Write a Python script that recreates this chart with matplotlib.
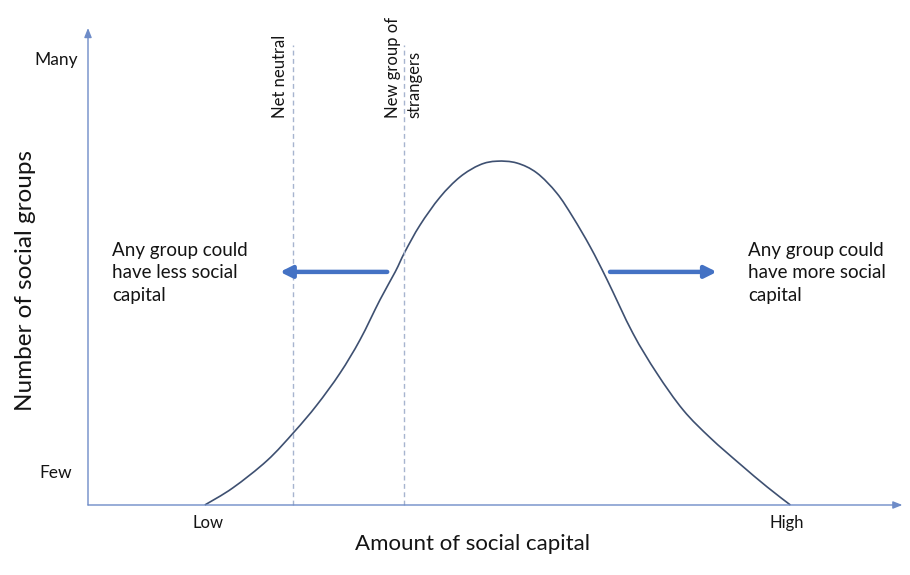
import matplotlib
matplotlib.use("Agg")
import matplotlib.pyplot as plt
from matplotlib.path import Path
from matplotlib.patches import PathPatch

plt.rcParams['font.family'] = ['Lato', 'DejaVu Sans']

# Bell curve of social groups over the amount of social capital (0-100 scale)
capital = [14.6, 18.1, 22.4, 25.8, 28.6, 31.5, 34.0, 36.5, 38.4, 39.6,
           41.5, 44.0, 46.5, 49.0, 51.1, 53.6, 56.1, 58.6, 60.6, 62.8,
           64.9, 68.1, 71.1, 74.4, 77.8, 81.5, 84.9, 87.8]
groups = [0.0, 3.8, 9.9, 16.3, 22.2, 29.3, 36.7, 45.6, 51.8, 56.2,
          62.2, 68.4, 72.9, 75.6, 76.4, 76.0, 73.8, 69.3, 64.0, 57.3,
          50.0, 38.2, 29.3, 21.1, 14.9, 9.1, 4.0, 0.0]

x_ticks = [15.0, 87.4]
x_tick_labels = ["Low", "High"]
y_ticks = [7.1, 98.9]
y_tick_labels = ["Few", "Many"]

markers_x = [25.6, 39.5]
markers_text = ["Net neutral", "New group of\nstrangers"]

shift_arrows = [(37.4, 24.0), (65.25, 78.6)]
shift_level = 51.8
less_text = "Any group could\nhave less social\ncapital"
more_text = "Any group could\nhave more social\ncapital"

axis_col = "#6E8CC8"
curve_col = "#3E5071"
dash_col = "#A7B4CF"
arrow_col = "#4472C4"
text_col = "#141414"


def smooth_path(xs, ys):
    """Catmull-Rom curve through the points, expressed as cubic Bezier segments."""
    pts = list(zip(xs, ys))
    ext = [pts[0]] + pts + [pts[-1]]
    verts = [pts[0]]
    codes = [Path.MOVETO]
    for i in range(1, len(ext) - 2):
        p0, p1, p2, p3 = ext[i - 1], ext[i], ext[i + 1], ext[i + 2]
        c1 = (p1[0] + (p2[0] - p0[0]) / 6, p1[1] + (p2[1] - p0[1]) / 6)
        c2 = (p2[0] - (p3[0] - p1[0]) / 6, p2[1] - (p3[1] - p1[1]) / 6)
        verts += [c1, c2, p2]
        codes += [Path.CURVE4] * 3
    return Path(verts, codes)


fig = plt.figure(figsize=(9.1, 5.75), dpi=100)
ax = fig.add_axes([0, 0, 1, 1])
ax.set_xlim(-11, 102.75)
ax.set_ylim(-15.556, 112.222)
ax.axis("off")

# axes with arrowheads
ax.annotate("", xy=(101.8, 0), xytext=(0, 0),
            arrowprops=dict(arrowstyle="-|>,head_length=0.55,head_width=0.22",
                            color=axis_col, lw=1.0, shrinkA=0, shrinkB=0))
ax.annotate("", xy=(0, 106), xytext=(0, 0),
            arrowprops=dict(arrowstyle="-|>,head_length=0.55,head_width=0.22",
                            color=axis_col, lw=1.0, shrinkA=0, shrinkB=0))

# dashed reference lines
for xm in markers_x:
    ax.plot([xm, xm], [0, 102.2], ls=(0, (3.5, 2.5)), color=dash_col, lw=1.0)

ax.text(markers_x[0] - 1.6, 86.0, markers_text[0], rotation=90,
        ha="center", va="bottom", fontsize=12, color=text_col)
ax.text(markers_x[1], 86.0, markers_text[1], rotation=90,
        ha="center", va="bottom", fontsize=12, color=text_col,
        multialignment="left", linespacing=1.45)

# distribution curve
ax.add_patch(PathPatch(smooth_path(capital, groups), facecolor="none",
                       edgecolor=curve_col, lw=1.2))

# shift arrows
for x0, x1 in shift_arrows:
    ax.annotate("", xy=(x1, shift_level), xytext=(x0, shift_level),
                arrowprops=dict(arrowstyle="-|>,head_length=0.7,head_width=0.35",
                                color=arrow_col, lw=3.2, shrinkA=0, shrinkB=0))

ax.text(3.0, 51.6, less_text, ha="left", va="center", fontsize=13.5,
        color=text_col, linespacing=1.4)
ax.text(82.5, 51.6, more_text, ha="left", va="center", fontsize=13.5,
        color=text_col, linespacing=1.4)

# tick labels
for xv, lab in zip(x_ticks, x_tick_labels):
    ax.text(xv, -4.0, lab, ha="center", va="center", fontsize=12, color=text_col)
for yv, lab in zip(y_ticks, y_tick_labels):
    ax.text(-4.0, yv, lab, ha="center", va="center", fontsize=12.5, color=text_col)

# axis titles
ax.text(48.1, -8.7, "Amount of social capital", ha="center", va="center",
        fontsize=16, color=text_col)
ax.text(-7.75, 49.8, "Number of social groups", ha="center", va="center",
        rotation=90, fontsize=17.5, color=text_col)

fig.savefig("out.png", dpi=100, facecolor="white")
